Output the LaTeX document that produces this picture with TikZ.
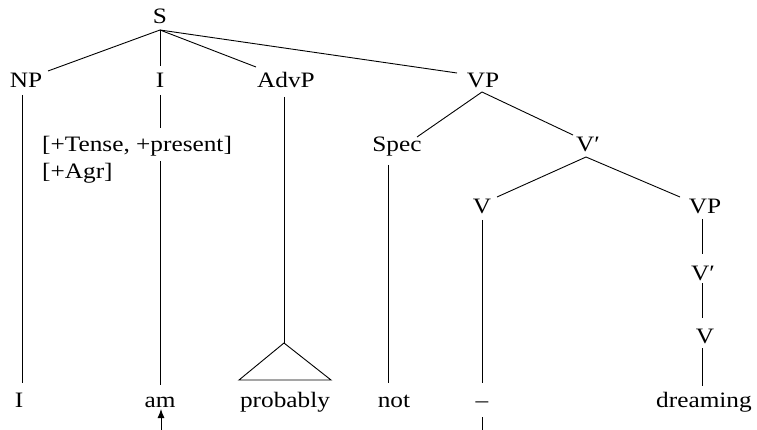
\documentclass[tikz,border=0pt]{standalone}
\usepackage{fontspec}
\setmainfont{Liberation Serif}[FakeStretch=1.15]
\usetikzlibrary{arrows.meta}
\begin{document}
\begin{tikzpicture}[x=1pt,y=-1pt,
  lbl/.style={inner sep=0pt,anchor=base,font=\fontsize{22}{26}\selectfont},
  featlbl/.style={inner sep=0pt,anchor=base west,font=\fontsize{22}{26}\selectfont},
  edge/.style={line width=0.9pt,black}]
\useasboundingbox (0,0) rectangle (757,430);
% nodes
\node[lbl] (nS) at (160,24) {S};
\node[lbl] (nNP) at (26,88) {NP};
\node[lbl] (nI) at (160,88) {I};
\node[lbl] (nAdvP) at (286,88) {AdvP};
\node[lbl] (nVP) at (483,88) {VP};
\node[featlbl] (feat1) at (42,152) {[+Tense, +present]};
\node[featlbl] (feat2) at (42,179) {[+Agr]};
\node[lbl] (nSpec) at (397,152) {Spec};
\node[lbl] (nVbar) at (588,152) {V′};
\node[lbl] (nV) at (482,214) {V};
\node[lbl] (nVPb) at (705,214) {VP};
\node[lbl] (nVbarb) at (703,280) {V′};
\node[lbl] (nVb) at (705,343) {V};
\node[lbl] (wI) at (19,407) {I};
\node[lbl] (wam) at (160,407) {am};
\node[lbl] (wprob) at (285,407) {probably};
\node[lbl] (wnot) at (394,407) {not};
\node[lbl] (wdash) at (482,407) {–};
\node[lbl] (wdream) at (704,407) {dreaming};
\coordinate (trace) at (482,432);
\coordinate (amfoot) at (161,432);
% connectors
\draw[edge] ([shift={(0,6)}]nS.base) -- ([shift={(22,-17)}]nNP.base);
\draw[edge] ([shift={(0,6)}]nS.base) -- ([shift={(0,-22)}]nI.base);
\draw[edge] ([shift={(0,6)}]nS.base) -- ([shift={(-30,-21)}]nAdvP.base);
\draw[edge] ([shift={(0,6)}]nS.base) -- ([shift={(-26,-15)}]nVP.base);
\draw[edge] ([shift={(-4,7)}]nNP.base) -- ([shift={(3,-24)}]wI.base);
\draw[edge] ([shift={(0,7)}]nI.base) -- ([shift={(118,-24)}]feat1.base west);
\draw[edge] ([shift={(118,9)}]feat1.base west) -- ([shift={(0,-22)}]wam.base);
\draw[edge] ([shift={(-2,9)}]nAdvP.base) -- ([shift={(-1,-64)}]wprob.base);
\draw[edge] ([shift={(-1,-64)}]wprob.base) -- ([shift={(-46,-27)}]wprob.base)
  -- ([shift={(46,-27)}]wprob.base) -- cycle;
\draw[edge] ([shift={(-1,4)}]nVP.base) -- ([shift={(20,-15)}]nSpec.base);
\draw[edge] ([shift={(-1,4)}]nVP.base) -- ([shift={(-15,-17)}]nVbar.base);
\draw[edge] ([shift={(-9,13)}]nSpec.base) -- ([shift={(-6,-24)}]wnot.base);
\draw[edge] ([shift={(-2,5)}]nVbar.base) -- ([shift={(15,-17)}]nV.base);
\draw[edge] ([shift={(-2,5)}]nVbar.base) -- ([shift={(-25,-17)}]nVPb.base);
\draw[edge] ([shift={(0,6)}]nV.base) -- ([shift={(0,-24)}]wdash.base);
\draw[edge] ([shift={(0,10)}]wdash.base) -- (trace);
\draw[edge] ([shift={(-3,5)}]nVPb.base) -- ([shift={(-1,-26)}]nVbarb.base);
\draw[edge] ([shift={(-1,3)}]nVbarb.base) -- ([shift={(-3,-25)}]nVb.base);
\draw[edge] ([shift={(-3,5)}]nVb.base) -- ([shift={(-2,-21)}]wdream.base);
\draw[edge,-{Latex[length=9pt,width=7pt]}] (amfoot) -- ([shift={(1,2)}]wam.base);
\end{tikzpicture}
\end{document}
